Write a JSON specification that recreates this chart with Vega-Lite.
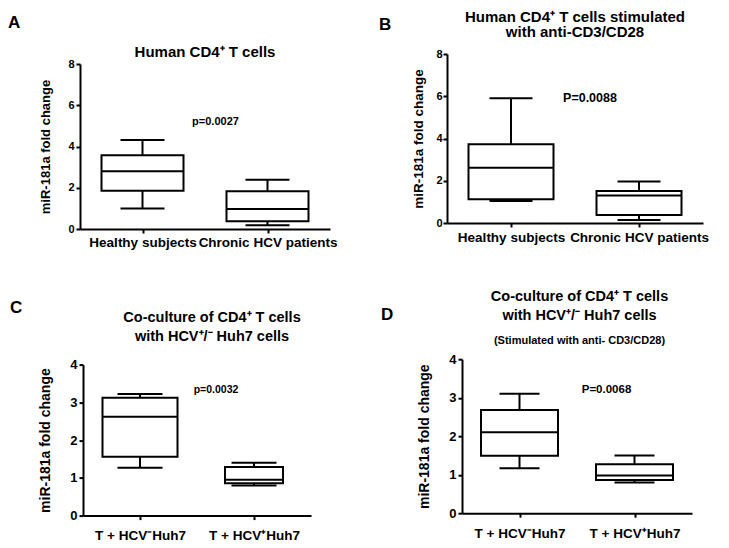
{
  "$schema": "https://vega.github.io/schema/vega-lite/v6.json",
  "background": "white",
  "padding": {"left": 8, "top": 9, "right": 0, "bottom": 0},
  "columns": 2,
  "align": "none",
  "spacing": 42,
  "concat": [
    {
      "columns": 1,
      "align": "none",
      "spacing": 49.6,
      "concat": [
        {
          "title": {"text": "A", "anchor": "start", "frame": "group", "fontSize": 17, "offset": 13.2, "dx": -72},
          "columns": 1,
          "concat": [
            {
              "width": 250, "height": 175,
              "title": {"text": "Human CD4⁺ T cells", "anchor": "middle", "frame": "group", "fontSize": 15, "offset": -5.9},
              "data": {"values": [
                {"group": "Healthy subjects", "lower": 0.99, "q1": 1.86, "median": 2.80, "q3": 3.57, "upper": 4.31},
                {"group": "Chronic HCV patients", "lower": 0.18, "q1": 0.37, "median": 0.97, "q3": 1.83, "upper": 2.39}
              ]},
              "encoding": {"x": {"field": "group", "type": "nominal", "sort": ["Healthy subjects", "Chronic HCV patients"], "scale": {"type": "point", "padding": 0.5}, "axis": {"title": null, "labelAngle": 0, "labelFontSize": 13.5, "labelPadding": 2, "labelLimit": 300}}},
              "layer": [
                {"mark": {"type": "rule", "color": "black", "strokeWidth": 2}, "encoding": {"y": {"field": "lower", "type": "quantitative", "title": "miR-181a fold change", "scale": {"domain": [0, 8], "range": [175, 10]}, "axis": {"values": [0, 2, 4, 6, 8], "labelFontSize": 11, "titleFontSize": 13, "titlePadding": 15.5, "labelPadding": 2}}, "y2": {"field": "upper"}}},
                {"mark": {"type": "bar", "fill": "white", "stroke": "black", "strokeWidth": 2, "size": 82}, "encoding": {"y": {"field": "q1", "type": "quantitative", "title": "miR-181a fold change", "scale": {"domain": [0, 8], "range": [175, 10]}, "axis": {"values": [0, 2, 4, 6, 8], "labelFontSize": 11, "titleFontSize": 13, "titlePadding": 15.5, "labelPadding": 2}}, "y2": {"field": "q3"}}},
                {"mark": {"type": "tick", "color": "black", "opacity": 1, "thickness": 2, "size": 44}, "encoding": {"y": {"field": "lower", "type": "quantitative", "title": "miR-181a fold change", "scale": {"domain": [0, 8], "range": [175, 10]}, "axis": {"values": [0, 2, 4, 6, 8], "labelFontSize": 11, "titleFontSize": 13, "titlePadding": 15.5, "labelPadding": 2}}}},
                {"mark": {"type": "tick", "color": "black", "opacity": 1, "thickness": 2, "size": 44}, "encoding": {"y": {"field": "upper", "type": "quantitative", "title": "miR-181a fold change", "scale": {"domain": [0, 8], "range": [175, 10]}, "axis": {"values": [0, 2, 4, 6, 8], "labelFontSize": 11, "titleFontSize": 13, "titlePadding": 15.5, "labelPadding": 2}}}},
                {"mark": {"type": "tick", "color": "black", "opacity": 1, "thickness": 2, "size": 82}, "encoding": {"y": {"field": "median", "type": "quantitative", "title": "miR-181a fold change", "scale": {"domain": [0, 8], "range": [175, 10]}, "axis": {"values": [0, 2, 4, 6, 8], "labelFontSize": 11, "titleFontSize": 13, "titlePadding": 15.5, "labelPadding": 2}}}},
                {"data": {"values": [{"group": "Chronic HCV patients", "y": 5.2, "label": "p=0.0027"}]}, "mark": {"type": "text", "fontWeight": "bold", "fontSize": 11, "dx": -52, "color": "black", "font": "Liberation Sans"}, "encoding": {"y": {"field": "y", "type": "quantitative", "title": "miR-181a fold change", "scale": {"domain": [0, 8], "range": [175, 10]}, "axis": {"values": [0, 2, 4, 6, 8], "labelFontSize": 11, "titleFontSize": 13, "titlePadding": 15.5, "labelPadding": 2}}, "text": {"field": "label"}}}
              ]
            }
          ]
        },
        {
          "title": {"text": "C", "anchor": "start", "frame": "group", "fontSize": 17, "offset": 0, "dy": 6.7, "dx": -70},
          "columns": 1,
          "concat": [
            {
              "width": 231, "height": 151,
              "title": {"text": ["Co-culture of CD4⁺ T cells", "with HCV⁺/⁻ Huh7 cells"], "anchor": "middle", "frame": "group", "fontSize": 14.5, "lineHeight": 19, "offset": 14, "dx": 16.5},
              "data": {"values": [
                {"group": "T + HCV⁻Huh7", "lower": 1.27, "q1": 1.56, "median": 2.62, "q3": 3.12, "upper": 3.22},
                {"group": "T + HCV⁺Huh7", "lower": 0.80, "q1": 0.86, "median": 0.95, "q3": 1.29, "upper": 1.40}
              ]},
              "encoding": {"x": {"field": "group", "type": "nominal", "sort": ["T + HCV⁻Huh7", "T + HCV⁺Huh7"], "scale": {"type": "point", "padding": 0.5, "range": [3, 231]}, "axis": {"title": null, "labelAngle": 0, "labelFontSize": 13.5, "labelPadding": 9, "labelLimit": 300}}},
              "layer": [
                {"mark": {"type": "rule", "color": "black", "strokeWidth": 2}, "encoding": {"y": {"field": "lower", "type": "quantitative", "title": "miR-181a fold change", "scale": {"domain": [0, 4]}, "axis": {"values": [0, 1, 2, 3, 4], "offset": -3, "labelFontSize": 13, "titleFontSize": 14, "titlePadding": 17.5, "labelPadding": 2}}, "y2": {"field": "upper"}}},
                {"transform": [{"filter": "datum.group === 'T + HCV⁻Huh7'"}], "mark": {"type": "bar", "fill": "white", "stroke": "black", "strokeWidth": 2, "size": 75}, "encoding": {"y": {"field": "q1", "type": "quantitative", "title": "miR-181a fold change", "scale": {"domain": [0, 4]}, "axis": {"values": [0, 1, 2, 3, 4], "offset": -3, "labelFontSize": 13, "titleFontSize": 14, "titlePadding": 17.5, "labelPadding": 2}}, "y2": {"field": "q3"}}},
                {"transform": [{"filter": "datum.group === 'T + HCV⁺Huh7'"}], "mark": {"type": "bar", "fill": "white", "stroke": "black", "strokeWidth": 2, "size": 58}, "encoding": {"y": {"field": "q1", "type": "quantitative", "title": "miR-181a fold change", "scale": {"domain": [0, 4]}, "axis": {"values": [0, 1, 2, 3, 4], "offset": -3, "labelFontSize": 13, "titleFontSize": 14, "titlePadding": 17.5, "labelPadding": 2}}, "y2": {"field": "q3"}}},
                {"mark": {"type": "tick", "color": "black", "opacity": 1, "thickness": 2, "size": 45}, "encoding": {"y": {"field": "lower", "type": "quantitative", "title": "miR-181a fold change", "scale": {"domain": [0, 4]}, "axis": {"values": [0, 1, 2, 3, 4], "offset": -3, "labelFontSize": 13, "titleFontSize": 14, "titlePadding": 17.5, "labelPadding": 2}}}},
                {"mark": {"type": "tick", "color": "black", "opacity": 1, "thickness": 2, "size": 45}, "encoding": {"y": {"field": "upper", "type": "quantitative", "title": "miR-181a fold change", "scale": {"domain": [0, 4]}, "axis": {"values": [0, 1, 2, 3, 4], "offset": -3, "labelFontSize": 13, "titleFontSize": 14, "titlePadding": 17.5, "labelPadding": 2}}}},
                {"transform": [{"filter": "datum.group === 'T + HCV⁻Huh7'"}], "mark": {"type": "tick", "color": "black", "opacity": 1, "thickness": 2, "size": 75}, "encoding": {"y": {"field": "median", "type": "quantitative", "title": "miR-181a fold change", "scale": {"domain": [0, 4]}, "axis": {"values": [0, 1, 2, 3, 4], "offset": -3, "labelFontSize": 13, "titleFontSize": 14, "titlePadding": 17.5, "labelPadding": 2}}}},
                {"transform": [{"filter": "datum.group === 'T + HCV⁺Huh7'"}], "mark": {"type": "tick", "color": "black", "opacity": 1, "thickness": 2, "size": 58}, "encoding": {"y": {"field": "median", "type": "quantitative", "title": "miR-181a fold change", "scale": {"domain": [0, 4]}, "axis": {"values": [0, 1, 2, 3, 4], "offset": -3, "labelFontSize": 13, "titleFontSize": 14, "titlePadding": 17.5, "labelPadding": 2}}}},
                {"data": {"values": [{"group": "T + HCV⁺Huh7", "y": 3.32, "label": "p=0.0032"}]}, "mark": {"type": "text", "fontWeight": "bold", "fontSize": 10.5, "dx": -38, "color": "black", "font": "Liberation Sans"}, "encoding": {"y": {"field": "y", "type": "quantitative", "title": "miR-181a fold change", "scale": {"domain": [0, 4]}, "axis": {"values": [0, 1, 2, 3, 4], "offset": -3, "labelFontSize": 13, "titleFontSize": 14, "titlePadding": 17.5, "labelPadding": 2}}, "text": {"field": "label"}}}
              ]
            }
          ]
        }
      ]
    },
    {
      "columns": 1,
      "align": "none",
      "spacing": 44.2,
      "concat": [
        {
          "title": {"text": "B", "anchor": "start", "frame": "group", "fontSize": 17, "offset": 0, "dy": 24.7, "dx": -68},
          "columns": 1,
          "concat": [
            {
              "width": 256, "height": 169,
              "title": {"text": ["Human CD4⁺ T cells stimulated", "with anti-CD3/CD28"], "anchor": "middle", "frame": "group", "fontSize": 15, "lineHeight": 15.3, "offset": 8},
              "data": {"values": [
                {"group": "Healthy subjects", "lower": 1.04, "q1": 1.12, "median": 2.62, "q3": 3.73, "upper": 5.90},
                {"group": "Chronic HCV patients", "lower": 0.14, "q1": 0.38, "median": 1.30, "q3": 1.52, "upper": 1.96}
              ]},
              "encoding": {"x": {"field": "group", "type": "nominal", "sort": ["Healthy subjects", "Chronic HCV patients"], "scale": {"type": "point", "padding": 0.5}, "axis": {"title": null, "labelAngle": 0, "labelFontSize": 13.5, "labelPadding": 3.6, "labelLimit": 300}}},
              "layer": [
                {"mark": {"type": "rule", "color": "black", "strokeWidth": 2}, "encoding": {"y": {"field": "lower", "type": "quantitative", "title": "miR-181a fold change", "scale": {"domain": [0, 8]}, "axis": {"values": [0, 2, 4, 6, 8], "labelFontSize": 11, "titleFontSize": 13.5, "titlePadding": 10, "labelPadding": 1}}, "y2": {"field": "upper"}}},
                {"mark": {"type": "bar", "fill": "white", "stroke": "black", "strokeWidth": 2, "size": 85}, "encoding": {"y": {"field": "q1", "type": "quantitative", "title": "miR-181a fold change", "scale": {"domain": [0, 8]}, "axis": {"values": [0, 2, 4, 6, 8], "labelFontSize": 11, "titleFontSize": 13.5, "titlePadding": 10, "labelPadding": 1}}, "y2": {"field": "q3"}}},
                {"mark": {"type": "tick", "color": "black", "opacity": 1, "thickness": 2, "size": 43}, "encoding": {"y": {"field": "lower", "type": "quantitative", "title": "miR-181a fold change", "scale": {"domain": [0, 8]}, "axis": {"values": [0, 2, 4, 6, 8], "labelFontSize": 11, "titleFontSize": 13.5, "titlePadding": 10, "labelPadding": 1}}}},
                {"mark": {"type": "tick", "color": "black", "opacity": 1, "thickness": 2, "size": 43}, "encoding": {"y": {"field": "upper", "type": "quantitative", "title": "miR-181a fold change", "scale": {"domain": [0, 8]}, "axis": {"values": [0, 2, 4, 6, 8], "labelFontSize": 11, "titleFontSize": 13.5, "titlePadding": 10, "labelPadding": 1}}}},
                {"mark": {"type": "tick", "color": "black", "opacity": 1, "thickness": 2, "size": 85}, "encoding": {"y": {"field": "median", "type": "quantitative", "title": "miR-181a fold change", "scale": {"domain": [0, 8]}, "axis": {"values": [0, 2, 4, 6, 8], "labelFontSize": 11, "titleFontSize": 13.5, "titlePadding": 10, "labelPadding": 1}}}},
                {"data": {"values": [{"group": "Chronic HCV patients", "y": 5.9, "label": "P=0.0088"}]}, "mark": {"type": "text", "fontWeight": "bold", "fontSize": 12.5, "dx": -49, "color": "black", "font": "Liberation Sans"}, "encoding": {"y": {"field": "y", "type": "quantitative", "title": "miR-181a fold change", "scale": {"domain": [0, 8]}, "axis": {"values": [0, 2, 4, 6, 8], "labelFontSize": 11, "titleFontSize": 13.5, "titlePadding": 10, "labelPadding": 1}}, "text": {"field": "label"}}}
              ]
            }
          ]
        },
        {
          "title": {"text": "D", "anchor": "start", "frame": "group", "fontSize": 17, "offset": 0, "dy": 34.7, "dx": -66},
          "columns": 1,
          "concat": [
            {
              "width": 245, "height": 154,
              "title": {"text": ["Co-culture of CD4⁺ T cells", "with HCV⁺/⁻ Huh7 cells"], "subtitle": "(Stimulated with anti- CD3/CD28)", "subtitleFontSize": 11, "subtitleFontWeight": "bold", "subtitleColor": "black", "subtitleFont": "Liberation Sans", "subtitlePadding": 11.7, "anchor": "middle", "frame": "group", "fontSize": 14.5, "lineHeight": 19, "offset": 5.8, "dx": 10},
              "data": {"values": [
                {"group": "T + HCV⁻Huh7", "lower": 1.17, "q1": 1.49, "median": 2.10, "q3": 2.68, "upper": 3.10},
                {"group": "T + HCV⁺Huh7", "lower": 0.80, "q1": 0.86, "median": 0.98, "q3": 1.27, "upper": 1.50}
              ]},
              "encoding": {"x": {"field": "group", "type": "nominal", "sort": ["T + HCV⁻Huh7", "T + HCV⁺Huh7"], "scale": {"type": "point", "padding": 0.5, "range": [15, 245]}, "axis": {"title": null, "labelAngle": 0, "labelFontSize": 13.5, "labelPadding": 9.3, "labelLimit": 300}}},
              "layer": [
                {"mark": {"type": "rule", "color": "black", "strokeWidth": 2}, "encoding": {"y": {"field": "lower", "type": "quantitative", "title": "miR-181a fold change", "scale": {"domain": [0, 4]}, "axis": {"values": [0, 1, 2, 3, 4], "offset": -15, "labelFontSize": 13, "titleFontSize": 14, "titlePadding": 17.5, "labelPadding": 2}}, "y2": {"field": "upper"}}},
                {"mark": {"type": "bar", "fill": "white", "stroke": "black", "strokeWidth": 2, "size": 77}, "encoding": {"y": {"field": "q1", "type": "quantitative", "title": "miR-181a fold change", "scale": {"domain": [0, 4]}, "axis": {"values": [0, 1, 2, 3, 4], "offset": -15, "labelFontSize": 13, "titleFontSize": 14, "titlePadding": 17.5, "labelPadding": 2}}, "y2": {"field": "q3"}}},
                {"mark": {"type": "tick", "color": "black", "opacity": 1, "thickness": 2, "size": 40}, "encoding": {"y": {"field": "lower", "type": "quantitative", "title": "miR-181a fold change", "scale": {"domain": [0, 4]}, "axis": {"values": [0, 1, 2, 3, 4], "offset": -15, "labelFontSize": 13, "titleFontSize": 14, "titlePadding": 17.5, "labelPadding": 2}}}},
                {"mark": {"type": "tick", "color": "black", "opacity": 1, "thickness": 2, "size": 40}, "encoding": {"y": {"field": "upper", "type": "quantitative", "title": "miR-181a fold change", "scale": {"domain": [0, 4]}, "axis": {"values": [0, 1, 2, 3, 4], "offset": -15, "labelFontSize": 13, "titleFontSize": 14, "titlePadding": 17.5, "labelPadding": 2}}}},
                {"mark": {"type": "tick", "color": "black", "opacity": 1, "thickness": 2, "size": 77}, "encoding": {"y": {"field": "median", "type": "quantitative", "title": "miR-181a fold change", "scale": {"domain": [0, 4]}, "axis": {"values": [0, 1, 2, 3, 4], "offset": -15, "labelFontSize": 13, "titleFontSize": 14, "titlePadding": 17.5, "labelPadding": 2}}}},
                {"data": {"values": [{"group": "T + HCV⁺Huh7", "y": 3.21, "label": "P=0.0068"}]}, "mark": {"type": "text", "fontWeight": "bold", "fontSize": 11.5, "dx": -28, "color": "black", "font": "Liberation Sans"}, "encoding": {"y": {"field": "y", "type": "quantitative", "title": "miR-181a fold change", "scale": {"domain": [0, 4]}, "axis": {"values": [0, 1, 2, 3, 4], "offset": -15, "labelFontSize": 13, "titleFontSize": 14, "titlePadding": 17.5, "labelPadding": 2}}, "text": {"field": "label"}}}
              ]
            }
          ]
        }
      ]
    }
  ],
  "config": {
    "font": "Liberation Sans",
    "view": {"stroke": null},
    "axis": {"domainColor": "black", "tickColor": "black", "labelColor": "black", "titleColor": "black", "domainWidth": 2, "tickWidth": 2, "tickSize": 4, "grid": false, "labelFont": "Liberation Sans", "titleFont": "Liberation Sans", "labelFontWeight": "bold", "titleFontWeight": "bold"},
    "title": {"font": "Liberation Sans", "fontWeight": "bold", "color": "black"}
  }
}
